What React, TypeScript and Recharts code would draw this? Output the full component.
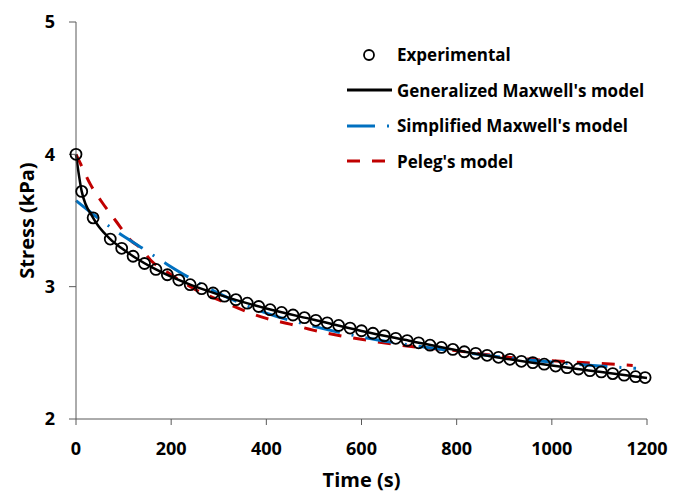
import { ComposedChart, Line, Scatter, XAxis, YAxis, Legend } from "recharts";

// experimental points (time s, stress kPa)
const expTimes = [
  0, 12, 36, 72, 96, 120, 144, 168, 192, 216, 240, 264, 288, 312, 336, 360, 384, 408, 432, 456, 480,
  504, 528, 552, 576, 600, 624, 648, 672, 696, 720, 744, 768, 792, 816, 840, 864, 888, 912, 936, 960,
  984, 1008, 1032, 1056, 1080, 1104, 1128, 1152, 1176, 1196,
];
const expStress = [
  4.0, 3.72, 3.52, 3.36, 3.29, 3.23, 3.175, 3.13, 3.09, 3.05, 3.015, 2.985, 2.952, 2.928, 2.902, 2.875,
  2.85, 2.826, 2.805, 2.786, 2.766, 2.746, 2.727, 2.707, 2.687, 2.667, 2.648, 2.63, 2.61, 2.593, 2.576,
  2.558, 2.541, 2.526, 2.508, 2.496, 2.481, 2.466, 2.451, 2.436, 2.426, 2.414, 2.4, 2.388, 2.378, 2.365,
  2.356, 2.343, 2.331, 2.32, 2.313,
];

// generalized Maxwell model
const genTimes = [0, 12, 36, 72, 96, 120, 168, 240, 300, 400, 500, 600, 700, 800, 900, 1000, 1100, 1200];
const genStress = [4.0, 3.72, 3.52, 3.36, 3.29, 3.23, 3.13, 3.015, 2.94, 2.835, 2.75, 2.665, 2.592, 2.52, 2.458, 2.404, 2.357, 2.31];

// simplified Maxwell model
const simTimes = [0, 35, 80, 140, 191, 237, 300, 400, 500, 600, 700, 800, 900, 1000, 1100, 1177];
const simStress = [3.65, 3.55, 3.43, 3.29, 3.17, 3.07, 2.95, 2.8, 2.7, 2.62, 2.56, 2.51, 2.465, 2.43, 2.4, 2.383];

// Peleg's model
const pelTimes = [0, 10, 30, 55, 83, 115, 136, 157, 200, 250, 300, 400, 450, 500, 560, 610, 700, 800, 900, 1000, 1100, 1170];
const pelStress = [4.0, 3.925, 3.775, 3.636, 3.5, 3.35, 3.29, 3.2, 3.09, 2.98, 2.9, 2.76, 2.717, 2.67, 2.626, 2.596, 2.55, 2.516, 2.47, 2.44, 2.42, 2.405];

const xTicks = [0, 200, 400, 600, 800, 1000, 1200];
const yTicks = [2, 3, 4, 5];

const zip = (ts: number[], ys: number[]) => ts.map((t, i) => ({ t, y: ys[i] }));

const expData = zip(expTimes, expStress);
const genData = zip(genTimes, genStress);
const simData = zip(simTimes, simStress);
const pelData = zip(pelTimes, pelStress);

const FONT = "'Open Sans', sans-serif";

const legendRows = [
  { name: "Experimental", kind: "circle" },
  { name: "Generalized Maxwell's model", kind: "black" },
  { name: "Simplified Maxwell's model", kind: "blue" },
  { name: "Peleg's model", kind: "red" },
];

function LegendBox() {
  return (
    <div style={{ fontFamily: FONT, fontWeight: 700, fontSize: 17, color: "#000" }}>
      {legendRows.map((r) => (
        <div key={r.name} style={{ display: "flex", alignItems: "center", height: 35.5 }}>
          <svg width={50} height={20}>
            {r.kind === "circle" && <circle cx={22} cy={10} r={5} fill="none" stroke="#000" strokeWidth={1.8} />}
            {r.kind === "black" && <line x1={0} y1={10} x2={45} y2={10} stroke="#000" strokeWidth={3} />}
            {r.kind === "blue" && (
              <line x1={0} y1={10} x2={45} y2={10} stroke="#0070C0" strokeWidth={3} strokeDasharray="28 12 2 12" />
            )}
            {r.kind === "red" && (
              <line x1={0} y1={10} x2={45} y2={10} stroke="#C00000" strokeWidth={3} strokeDasharray="13 12" />
            )}
          </svg>
          <span style={{ lineHeight: 1 }}>{r.name}</span>
        </div>
      ))}
    </div>
  );
}

export default function App() {
  return (
    <div style={{ position: "absolute", left: 0, top: 0, background: "#fff" }}>
      <ComposedChart width={674} height={494} margin={{ top: 22, right: 27, bottom: 0, left: 0 }}>
        <XAxis
          type="number"
          dataKey="t"
          domain={[0, 1200]}
          ticks={xTicks}
          allowDuplicatedCategory={false}
          height={75}
          stroke="#595959"
          tickSize={6}
          tick={{ fill: "#000", fontFamily: FONT, fontWeight: 700, fontSize: 18 }}
          tickMargin={17}
          label={{
            value: "Time (s)",
            position: "insideBottom",
            offset: 7,
            style: { fill: "#000", fontFamily: FONT, fontWeight: 700, fontSize: 20 },
          }}
        />
        <YAxis
          type="number"
          dataKey="y"
          domain={[2, 5]}
          ticks={yTicks}
          width={76}
          stroke="#595959"
          tickSize={7}
          tickMargin={14}
          tick={{ fill: "#000", fontFamily: FONT, fontWeight: 700, fontSize: 18 }}
          label={{
            value: "Stress (kPa)",
            angle: -90,
            position: "center",
            dx: -11,
            style: { fill: "#000", fontFamily: FONT, fontWeight: 700, fontSize: 20, textAnchor: "middle" },
          }}
        />
        <Legend
          content={() => <LegendBox />}
          layout="vertical"
          verticalAlign="middle"
          align="center"
          wrapperStyle={{ left: 347, top: 37, width: 320 }}
        />
        <Line data={pelData} dataKey="y" type="monotone" stroke="#C00000" strokeWidth={3} strokeDasharray="13 12" dot={false} isAnimationActive={false} />
        <Line data={simData} dataKey="y" type="monotone" stroke="#0070C0" strokeWidth={3} strokeDasharray="28 12 2 12" dot={false} isAnimationActive={false} />
        <Line data={genData} dataKey="y" type="monotone" stroke="#000" strokeWidth={2.5} dot={false} isAnimationActive={false} />
        <Scatter
          data={expData}
          dataKey="y"
          isAnimationActive={false}
          shape={(p: any) => <circle cx={p.cx} cy={p.cy} r={5.5} fill="none" stroke="#000" strokeWidth={1.8} />}
        />
      </ComposedChart>
    </div>
  );
}
